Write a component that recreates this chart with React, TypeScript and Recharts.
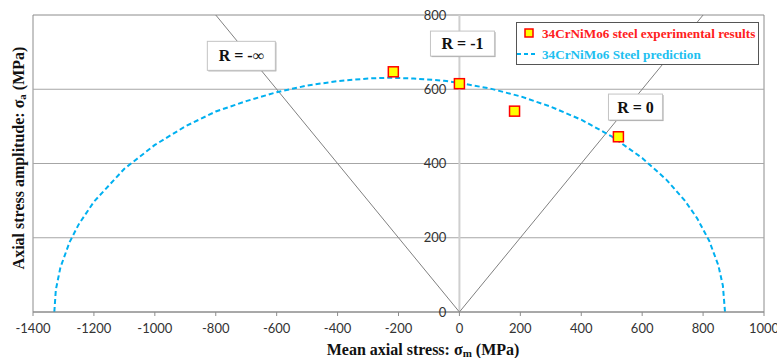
import React from 'react';
import {
  ComposedChart,
  Scatter,
  Line,
  XAxis,
  YAxis,
  ReferenceLine,
  ReferenceArea,
  ReferenceDot,
  Legend,
} from 'recharts';

// axis ticks
const xTicks = [-1400, -1200, -1000, -800, -600, -400, -200, 0, 200, 400, 600, 800, 1000];
const yTicks = [0, 200, 400, 600, 800];

// 34CrNiMo6 experimental points (sigma_m, sigma_a)
const experimental = [
  { m: -217, a: 647 },
  { m: 0, a: 615 },
  { m: 181, a: 541 },
  { m: 522, a: 472 },
];

// prediction curve
const prediction = [
  { m: -1330, a: 0 },
  { m: -1325, a: 60 },
  { m: -1310, a: 120 },
  { m: -1280, a: 188 },
  { m: -1250, a: 236 },
  { m: -1200, a: 297 },
  { m: -1100, a: 386 },
  { m: -1000, a: 450 },
  { m: -900, a: 500 },
  { m: -800, a: 540 },
  { m: -700, a: 568 },
  { m: -600, a: 592 },
  { m: -500, a: 610 },
  { m: -400, a: 622 },
  { m: -300, a: 629 },
  { m: -229, a: 631 },
  { m: -150, a: 629 },
  { m: -50, a: 623 },
  { m: 0, a: 617 },
  { m: 100, a: 602 },
  { m: 200, a: 581 },
  { m: 300, a: 553 },
  { m: 400, a: 518 },
  { m: 500, a: 473 },
  { m: 600, a: 415 },
  { m: 680, a: 356 },
  { m: 740, a: 300 },
  { m: 780, a: 253 },
  { m: 820, a: 192 },
  { m: 850, a: 126 },
  { m: 865, a: 71 },
  { m: 872, a: 0 },
];

// stress ratio lines (from origin)
const rMinusInf = [{ m: 0, a: 0 }, { m: -800, a: 800 }];
const rZero = [{ m: 0, a: 0 }, { m: 800, a: 800 }];

const rLabels = [
  { name: 'R = -∞', m: -716, a: 690 },
  { name: 'R = -1', m: 10, a: 723 },
  { name: 'R = 0', m: 578, a: 552 },
];

const expName = '34CrNiMo6 steel experimental results';
const predName = '34CrNiMo6 Steel prediction';

const SERIF = "'Liberation Serif', 'Times New Roman', serif";
const SANS = "Lato, 'Open Sans', sans-serif";
const CYAN = '#00B0F0';

const boxW: Record<string, number> = { 'R = -∞': 68, 'R = -1': 64, 'R = 0': 54 };
const boxH: Record<string, number> = { 'R = -∞': 29, 'R = -1': 25, 'R = 0': 26 };

function Marker(props: any) {
  const { cx, cy } = props;
  return <rect x={cx - 5} y={cy - 5} width={10} height={10} fill="#FFFF00" stroke="#FF0000" strokeWidth={1.5} />;
}

function RBox(props: any) {
  const { cx, cy, payload } = props;
  const w = boxW[payload.name];
  const h = boxH[payload.name];
  return (
    <g>
      <rect x={cx - w / 2 + 1} y={cy - h / 2 + 1} width={w} height={h} fill="#9a9a9a" />
      <rect x={cx - w / 2} y={cy - h / 2} width={w} height={h} fill="#fff" stroke="#c4c4c4" />
      <text x={cx} y={cy} textAnchor="middle" dominantBaseline="central" fontFamily={SERIF} fontWeight="bold" fontSize={16} fill="#111">
        {payload.name}
      </text>
    </g>
  );
}

function LegendBox() {
  return (
    <svg width={243} height={43} style={{ display: 'block' }}>
      <rect x={0.5} y={0.5} width={242} height={42} fill="#fff" stroke="#555" />
      <rect x={9} y={7} width={8} height={8} fill="#FFFF00" stroke="#FF0000" strokeWidth={1.5} />
      <text x={26} y={11} dominantBaseline="central" fontFamily={SERIF} fontWeight="bold" fontSize={13.2} fill="#FF2020">
        {expName}
      </text>
      <line x1={1} y1={32} x2={21} y2={32} stroke={CYAN} strokeWidth={2} strokeDasharray="4 3" />
      <text x={26} y={32} dominantBaseline="central" fontFamily={SERIF} fontWeight="bold" fontSize={13.2} fill="#1EC0F0">
        {predName}
      </text>
    </svg>
  );
}

// both axis titles drawn from the x axis label slot
const titles = () => (
  <g>
    <text x={423} y={349} textAnchor="middle" dominantBaseline="central" fontFamily={SERIF} fontWeight="bold" fontSize={16} fill="#111">
      Mean axial stress: σ<tspan dy={4} fontSize={11}>m</tspan>
      <tspan dy={-4}> (MPa)</tspan>
    </text>
    <text
      x={18}
      y={158}
      transform="rotate(-90, 18, 158)"
      textAnchor="middle"
      dominantBaseline="central"
      fontFamily={SERIF}
      fontWeight="bold"
      fontSize={16}
      fill="#111"
    >
      Axial stress amplitude: σ<tspan dy={4} fontSize={11}>a</tspan>
      <tspan dy={-4}> (MPa)</tspan>
    </text>
  </g>
);

export default function App() {
  return (
    <div style={{ position: 'absolute', left: 0, top: 0, width: 777, height: 358, background: '#fff' }}>
      <ComposedChart width={777} height={358} margin={{ top: 15, right: 13, bottom: 16, left: 33 }}>
        <XAxis
          type="number"
          dataKey="m"
          domain={[-1400, 1000]}
          ticks={xTicks}
          interval={0}
          height={30}
          stroke="#8c8c8c"
          tickSize={4}
          tickMargin={8}
          tick={{ fill: '#333', fontSize: 13, fontFamily: SANS }}
          allowDataOverflow
          label={titles}
        />
        <YAxis type="number" dataKey="a" domain={[0, 800]} ticks={yTicks} width={0} tick={false} axisLine={false} tickLine={false} allowDataOverflow />
        {yTicks.slice(1, -1).map((v) => (
          <ReferenceLine key={`g${v}`} y={v} stroke="#a6a6a6" />
        ))}
        <ReferenceArea x1={-1400} x2={1000} y1={0} y2={800} fill="none" stroke="#8c8c8c" />
        <ReferenceLine x={0} stroke="#cfcfcf" strokeWidth={2} />
        {yTicks.map((v) => (
          <ReferenceDot
            key={v}
            x={0}
            y={v}
            r={0}
            stroke="none"
            fill="none"
            label={{ value: v, position: 'left', offset: 13, fill: '#333', fontSize: 13, fontFamily: SANS }}
          />
        ))}
        <Line data={rMinusInf} dataKey="a" stroke="#808080" strokeWidth={1} dot={false} isAnimationActive={false} legendType="none" />
        <Line data={rZero} dataKey="a" stroke="#808080" strokeWidth={1} dot={false} isAnimationActive={false} legendType="none" />
        <Line
          data={prediction}
          dataKey="a"
          name={predName}
          stroke={CYAN}
          strokeWidth={2}
          strokeDasharray="5 3"
          dot={false}
          isAnimationActive={false}
        />
        <Scatter data={experimental} dataKey="a" name={expName} shape={<Marker />} isAnimationActive={false} />
        <Scatter data={rLabels} dataKey="a" shape={<RBox />} isAnimationActive={false} legendType="none" />
        <Legend
          layout="vertical"
          align="center"
          verticalAlign="middle"
          content={() => <LegendBox />}
          wrapperStyle={{ left: 516, top: 22, width: 243, height: 43 }}
        />
      </ComposedChart>
    </div>
  );
}
